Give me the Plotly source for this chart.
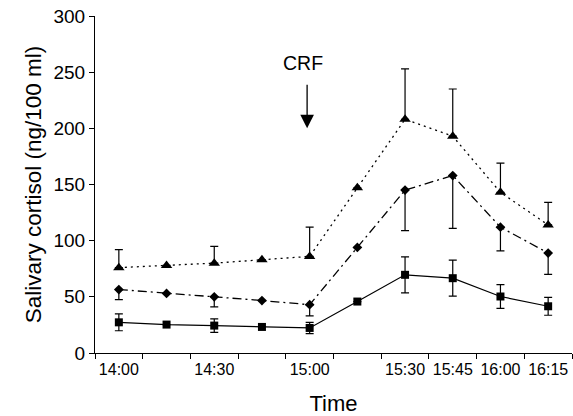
import plotly.graph_objects as go

# Sampling times (15-minute intervals)
times = ["14:00", "14:15", "14:30", "14:45", "15:00", "15:15", "15:30", "15:45", "16:00", "16:15"]
tick_labels = ["14:00", "14:30", "15:00", "15:30", "15:45", "16:00", "16:15"]

# Series 1 (triangles, dotted) - mean and upper SEM
tri_vals = [76, 78, 80, 83, 86, 147, 208, 193, 143, 114]
tri_err = [16, 0, 15, 0, 26, 0, 45, 42, 26, 20]

# Series 2 (diamonds, dash-dot) - mean and lower SEM
dia_vals = [56.5, 53, 50, 46.7, 43, 94, 145, 158, 112, 89]
dia_err = [9, 0, 9, 0, 10, 0, 36, 47, 21, 19]

# Series 3 (squares, solid) - mean and symmetric SEM
sq_vals = [27.3, 25.3, 24.4, 23.2, 22.3, 45.8, 69.6, 66.6, 50.3, 41.6]
sq_err = [7.5, 0, 6, 0, 5, 0, 16, 16, 10.5, 8]

annot_text = "CRF"
annot_time = "15:00"


def to_min(t):
    h, m = t.split(":")
    return (int(h) - 14) * 60 + int(m)


x = [to_min(t) for t in times]
zeros = [0] * len(x)

FONT = "Liberation Sans, Arial, Helvetica, sans-serif"

fig = go.Figure()

fig.add_trace(go.Scatter(
    x=x, y=tri_vals, mode="lines+markers",
    line=dict(color="black", width=1.3, dash="2px,4px"),
    marker=dict(symbol="triangle-up", size=10, color="black"),
    error_y=dict(type="data", symmetric=False, array=tri_err, arrayminus=zeros,
                 color="black", thickness=1.2, width=4),
    showlegend=False,
))
fig.add_trace(go.Scatter(
    x=x, y=dia_vals, mode="lines+markers",
    line=dict(color="black", width=1.3, dash="9px,4px,2px,4px"),
    marker=dict(symbol="diamond", size=7.5, color="black"),
    error_y=dict(type="data", symmetric=False, array=zeros, arrayminus=dia_err,
                 color="black", thickness=1.2, width=4),
    showlegend=False,
))
fig.add_trace(go.Scatter(
    x=x, y=sq_vals, mode="lines+markers",
    line=dict(color="black", width=1.2),
    marker=dict(symbol="square", size=8, color="black"),
    error_y=dict(type="data", symmetric=True, array=sq_err,
                 color="black", thickness=1.2, width=4),
    showlegend=False,
))

step = x[1] - x[0]
boundaries = [x[0] - step / 2 + i * step for i in range(len(x) + 1)]

fig.update_xaxes(
    range=[boundaries[0], boundaries[-1]],
    tickmode="array",
    tickvals=[to_min(t) for t in tick_labels],
    ticktext=tick_labels,
    ticks="",
    ticklabelstandoff=2,
    minor=dict(tickmode="array", tickvals=boundaries, ticks="outside",
               ticklen=5, tickwidth=1.2, tickcolor="black"),
    showline=True, linecolor="black", linewidth=1.2,
    showgrid=False, zeroline=False,
    tickfont=dict(family=FONT, size=16, color="black"),
    title=dict(text="Time", font=dict(family=FONT, size=22, color="black"), standoff=19),
)
fig.update_yaxes(
    range=[0, 300], dtick=50, tick0=0,
    ticks="outside", ticklen=5, tickwidth=1.2, tickcolor="black",
    showline=True, linecolor="black", linewidth=1.2,
    showgrid=False, zeroline=False,
    tickfont=dict(family=FONT, size=19, color="black"),
    title=dict(text="Salivary cortisol (ng/100 ml)",
               font=dict(family=FONT, size=22.5, color="black"), standoff=5),
)

ax_min = to_min(annot_time)
fig.add_annotation(x=ax_min - 2, y=258, xref="x", yref="y", text=annot_text,
                   showarrow=False, font=dict(family=FONT, size=19.5, color="black"))
fig.add_annotation(x=ax_min - 0.8, y=200, xref="x", yref="y", text="",
                   showarrow=True, ax=0, ay=-45, axref="pixel", ayref="pixel",
                   arrowhead=2, arrowsize=2.1, arrowwidth=1.3, arrowcolor="black")

fig.update_layout(
    width=573, height=416,
    margin=dict(l=95, r=1, t=16, b=63, autoexpand=False),
    paper_bgcolor="white", plot_bgcolor="white",
    font=dict(family=FONT, color="black"),
)

fig.write_html("out.html",
               config={"displayModeBar": False},
               post_script="document.body.style.margin='0';document.body.style.overflow='hidden';")
